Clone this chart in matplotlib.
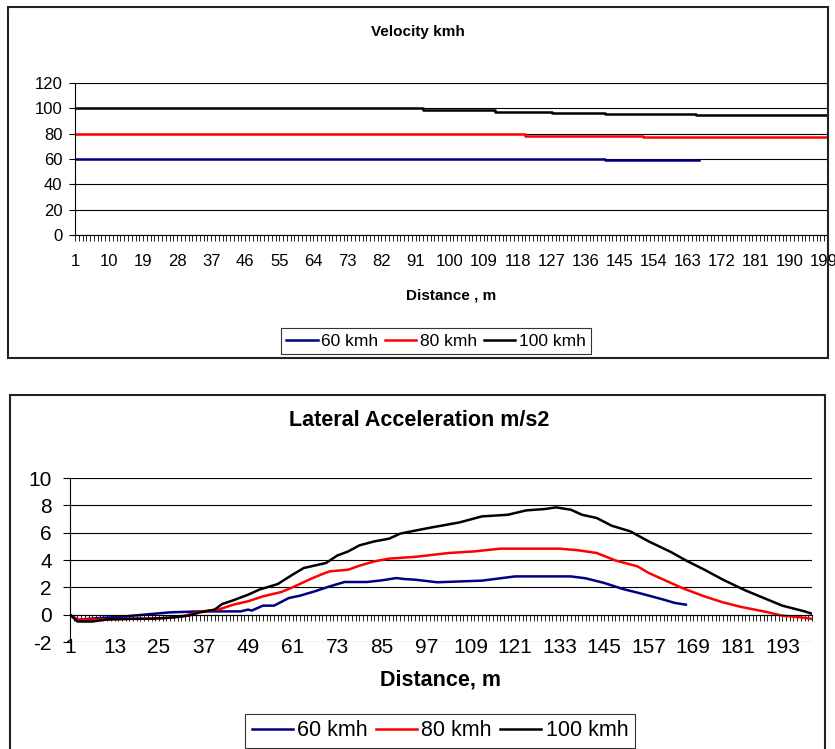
import matplotlib.pyplot as plt
from matplotlib.patches import Rectangle
from matplotlib.ticker import MultipleLocator, FixedLocator

plt.rcParams['font.family'] = ['Liberation Sans', 'DejaVu Sans']
plt.rcParams['axes.unicode_minus'] = False

# velocity steps (distance where the level starts, level in km/h)
v60_x = [1, 141, 166]
v60 = [60, 59, 59]
v80_x = [1, 87, 120, 151, 200]
v80 = [80, 79.5, 78.5, 77.5, 77.5]
v100_x = [1, 93, 112, 127, 141, 165, 200]
v100 = [100, 99, 97.5, 96.5, 95.5, 94.5, 94.5]

# lateral acceleration
acc60_x = [1, 3, 9, 16, 23, 28, 36, 47, 49, 50, 53, 56, 60, 63, 67, 71, 75, 81, 85,
           89, 91, 94, 100, 112, 121, 136, 140, 145, 150, 155, 161, 164, 167]
acc60 = [0, -0.37, -0.25, -0.12, 0.05, 0.17, 0.24, 0.24, 0.37, 0.3, 0.66, 0.66, 1.22,
         1.39, 1.71, 2.07, 2.39, 2.39, 2.51, 2.68, 2.61, 2.56, 2.37, 2.49, 2.8, 2.8,
         2.66, 2.32, 1.88, 1.54, 1.1, 0.86, 0.73]
acc80_x = [1, 3, 9, 20, 27, 32, 36, 41, 45, 49, 53, 58, 61, 66, 69, 71, 76, 79, 83, 87,
           94, 103, 110, 117, 133, 138, 143, 148, 154, 157, 162, 166, 172, 177, 182,
           188, 193, 198, 201]
acc80 = [0, -0.37, -0.35, -0.3, -0.25, -0.07, 0.22, 0.37, 0.73, 0.98, 1.34, 1.66, 2.0,
         2.63, 2.97, 3.17, 3.29, 3.58, 3.9, 4.1, 4.23, 4.51, 4.63, 4.83, 4.83, 4.71,
         4.51, 3.97, 3.53, 3.05, 2.44, 1.95, 1.34, 0.9, 0.56, 0.24, -0.07, -0.2, -0.31]
acc100_x = [1, 3, 7, 11, 17, 23, 29, 33, 36, 40, 42, 45, 49, 52, 57, 61, 64, 68, 70, 73,
            76, 79, 83, 87, 90, 94, 99, 106, 112, 119, 124, 129, 132, 136, 139, 143,
            147, 152, 157, 163, 167, 172, 177, 183, 188, 193, 199, 201]
acc100 = [0, -0.5, -0.5, -0.35, -0.3, -0.3, -0.2, -0.07, 0.17, 0.37, 0.78, 1.05, 1.46,
          1.83, 2.24, 2.93, 3.41, 3.66, 3.78, 4.32, 4.63, 5.07, 5.36, 5.56, 5.93, 6.15,
          6.41, 6.75, 7.19, 7.31, 7.63, 7.73, 7.85, 7.68, 7.31, 7.07, 6.51, 6.1, 5.36,
          4.58, 3.97, 3.29, 2.56, 1.78, 1.22, 0.66, 0.24, 0.07]

labels = ['60 kmh', '80 kmh', '100 kmh']
colors = ['#000080', '#FF0000', '#000000']

W, H = 835, 749
fig = plt.figure(figsize=(W / 100, H / 100), dpi=100)

# outer chart boxes
fig.patches.append(Rectangle((8 / W, 1 - 358 / H), 820 / W, 351 / H, fill=False,
                             lw=1.5, ec='#222222', transform=fig.transFigure))
fig.patches.append(Rectangle((10 / W, 1 - 760 / H), 815 / W, 365 / H, fill=False,
                             lw=1.5, ec='#222222', transform=fig.transFigure))


def style_axis(ax, fs, pad, ylen, ypad):
    for s in ['top', 'right']:
        ax.spines[s].set_visible(False)
    ax.grid(axis='y', color='black', lw=0.8)
    ax.set_axisbelow(True)
    ax.tick_params(axis='y', length=ylen, width=0.8, labelsize=fs, pad=ypad)
    ax.tick_params(axis='x', which='both', length=4, width=0.6, labelsize=fs, pad=pad)
    ax.xaxis.set_minor_locator(MultipleLocator(1))


# ---- velocity ----
ax1 = fig.add_axes([75 / W, 1 - 235 / H, 753 / W, 152 / H])
for xs, ys, c, lab in zip([v60_x, v80_x, v100_x], [v60, v80, v100], colors, labels):
    ax1.plot(xs, ys, color=c, lw=1.8, drawstyle='steps-post', label=lab)
ax1.set_xlim(1, 200)
ax1.set_ylim(0, 120)
ax1.set_yticks(range(0, 121, 20))
ax1.xaxis.set_major_locator(FixedLocator(range(1, 200, 9)))
style_axis(ax1, 12, 9.5, 4, 5)
ax1.set_xlabel('Distance , m', fontsize=11, fontweight='bold')
ax1.xaxis.set_label_coords(0.5, -0.395)
ax1.xaxis.label.set_va('center')
fig.text(418 / W, 1 - 32 / H, 'Velocity kmh', ha='center', va='center',
         fontsize=11, fontweight='bold')
h, l = ax1.get_legend_handles_labels()
fig.legend(h, l, loc='center', bbox_to_anchor=(436 / W, 1 - 341 / H), ncol=3,
           fontsize=12.5, frameon=True, fancybox=False, edgecolor='black',
           handlelength=1.8, handletextpad=0.2, columnspacing=0.4,
           borderpad=0.3, borderaxespad=0).get_frame().set_linewidth(0.8)

# ---- lateral acceleration ----
ax2 = fig.add_axes([70 / W, 1 - 642 / H, 742 / W, 164 / H])
for xs, ys, c, lab in zip([acc60_x, acc80_x, acc100_x], [acc60, acc80, acc100],
                          colors, labels):
    ax2.plot(xs, ys, color=c, lw=1.8, label=lab)
ax2.set_xlim(1, 201)
ax2.set_ylim(-2, 10)
ax2.set_yticks(range(-2, 11, 2))
ax2.spines['bottom'].set_position(('data', 0))
ax2.xaxis.set_major_locator(FixedLocator(range(1, 201, 12)))
style_axis(ax2, 15, 12.5, 5, 8)
ax2.set_xlabel('Distance, m', fontsize=15.5, fontweight='bold')
ax2.xaxis.set_label_coords(0.5, -0.232)
ax2.xaxis.label.set_va('center')
fig.text(419 / W, 1 - 421 / H, 'Lateral Acceleration m/s2', ha='center', va='center',
         fontsize=15.5, fontweight='bold')
h, l = ax2.get_legend_handles_labels()
fig.legend(h, l, loc='center', bbox_to_anchor=(440 / W, 1 - 731 / H), ncol=3,
           fontsize=15.5, frameon=True, fancybox=False, edgecolor='black',
           handlelength=1.9, handletextpad=0.2, columnspacing=0.4,
           borderpad=0.3, borderaxespad=0).get_frame().set_linewidth(0.8)

fig.savefig('out.png', dpi=100)
